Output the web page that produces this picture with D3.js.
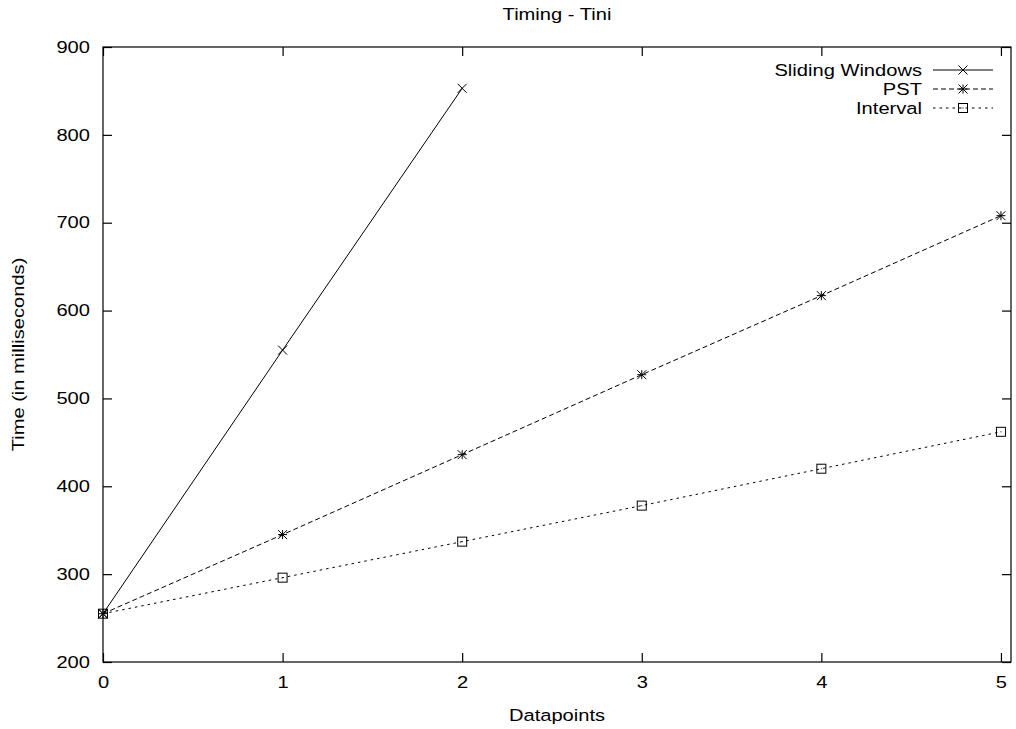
<!DOCTYPE html>
<html>
<head>
<meta charset="utf-8">
<script src="https://cdn.jsdelivr.net/npm/d3@7"></script>
<style>
  html, body { margin: 0; padding: 0; background: #fff; }
  svg { display: block; }
  text { font-family: "Liberation Sans", Arial, Helvetica, sans-serif; fill: #000; }
</style>
</head>
<body>
<svg id="chart" width="1016" height="729"></svg>
<script>
// ---- data ----
const datapoints = [0, 1, 2, 3, 4, 5];
const slidingWindows = [255, 555, 853];
const pst = [255, 345, 436, 527, 617, 708];
const interval = [255, 296, 337, 378, 420, 462];
const seriesNames = ["Sliding Windows", "PST", "Interval"];
const xTicks = [0, 1, 2, 3, 4, 5];
const yTicks = [200, 300, 400, 500, 600, 700, 800, 900];
const titleText = "Timing - Tini";
const xLabel = "Datapoints";
const yLabel = "Time (in milliseconds)";

// ---- layout ----
const mLeft = 103, mRight = 1011, mTop = 47, mBottom = 662;
const SX = 1.22;       // horizontal stretch of the text glyphs
const FS = 16.5;

const svg = d3.select("#chart");
const x = d3.scaleLinear().domain([0, 5.056]).range([mLeft, mRight]);
const y = d3.scaleLinear().domain([200, 900]).range([mBottom, mTop]);

function stretchText(sel, tx, ty) {
  sel.attr("x", 0).attr("transform", `translate(${tx},${ty}) scale(${SX},1)`);
}

// frame
svg.append("rect")
  .attr("x", mLeft).attr("y", mTop)
  .attr("width", mRight - mLeft).attr("height", mBottom - mTop)
  .attr("fill", "none").attr("stroke", "#000").attr("stroke-width", 1.2);

// axes
const gL = svg.append("g").attr("transform", `translate(${mLeft},0)`)
  .call(d3.axisLeft(y).tickValues(yTicks).tickSize(-9).tickPadding(13).tickFormat(d3.format("d")));
const gB = svg.append("g").attr("transform", `translate(0,${mBottom})`)
  .call(d3.axisBottom(x).tickValues(xTicks).tickSize(-9).tickPadding(14).tickFormat(d3.format("d")));
const gR = svg.append("g").attr("transform", `translate(${mRight},0)`)
  .call(d3.axisRight(y).tickValues(yTicks).tickSize(-9).tickFormat(""));
const gT = svg.append("g").attr("transform", `translate(0,${mTop})`)
  .call(d3.axisTop(x).tickValues(xTicks).tickSize(-9).tickFormat(""));

[gL, gB, gR, gT].forEach(g => {
  g.select(".domain").remove();
  g.selectAll(".tick line").attr("stroke", "#000").attr("stroke-width", 1.2);
  g.selectAll("text").attr("font-size", FS).attr("font-family", "Liberation Sans, Arial, sans-serif").attr("fill", "#000");
});
gL.selectAll(".tick text").each(function() {
  d3.select(this).attr("x", 0).attr("transform", `translate(-13,0) scale(${SX},1)`);
});
gB.selectAll(".tick text").each(function() {
  d3.select(this).attr("transform", `scale(${SX},1)`);
});

// title & axis labels
stretchText(svg.append("text").attr("text-anchor", "middle").attr("font-size", FS).text(titleText), (mLeft + mRight) / 2, 20);
stretchText(svg.append("text").attr("text-anchor", "middle").attr("font-size", FS).text(xLabel), (mLeft + mRight) / 2, 721);
svg.append("text").attr("text-anchor", "middle").attr("font-size", FS)
  .attr("transform", `translate(24,${(mTop + mBottom) / 2}) rotate(-90) scale(${SX},1)`)
  .text(yLabel);

// series
const series = [
  { name: seriesNames[0], vals: slidingWindows, dash: null, marker: "x" },
  { name: seriesNames[1], vals: pst, dash: "5,3", marker: "star" },
  { name: seriesNames[2], vals: interval, dash: "2.5,4", marker: "square" }
];

function drawMarker(g, type, cx, cy) {
  const s = 4.5;
  if (type === "x" || type === "star") {
    g.append("path")
      .attr("d", `M${cx - s},${cy - s}L${cx + s},${cy + s}M${cx - s},${cy + s}L${cx + s},${cy - s}`)
      .attr("stroke", "#000").attr("stroke-width", 1).attr("fill", "none");
  }
  if (type === "star") {
    g.append("path")
      .attr("d", `M${cx},${cy - s}L${cx},${cy + s}M${cx - s},${cy}L${cx + s},${cy}`)
      .attr("stroke", "#000").attr("stroke-width", 1).attr("fill", "none");
  }
  if (type === "square") {
    g.append("rect").attr("x", cx - 4.5).attr("y", cy - 4.5).attr("width", 9).attr("height", 9)
      .attr("fill", "none").attr("stroke", "#000").attr("stroke-width", 1);
    g.append("rect").attr("x", cx - 0.5).attr("y", cy - 0.5).attr("width", 1).attr("height", 1)
      .attr("fill", "#000");
  }
}

const line = d3.line().x((d, i) => x(datapoints[i])).y(d => y(d));
series.forEach(s => {
  svg.append("path").datum(s.vals)
    .attr("d", line)
    .attr("fill", "none").attr("stroke", "#000").attr("stroke-width", 1)
    .attr("stroke-dasharray", s.dash);
  const g = svg.append("g");
  s.vals.forEach((v, i) => drawMarker(g, s.marker, x(datapoints[i]), y(v)));
});

// legend
const legendRows = [70, 89, 108];
series.forEach((s, i) => {
  const ry = legendRows[i];
  stretchText(svg.append("text").attr("text-anchor", "end").attr("font-size", FS).attr("dy", "0.35em").text(s.name), 922, ry);
  svg.append("line").attr("x1", 933).attr("x2", 993).attr("y1", ry).attr("y2", ry)
    .attr("stroke", "#000").attr("stroke-width", 1).attr("stroke-dasharray", s.dash);
  drawMarker(svg.append("g"), s.marker, 963, ry);
});
</script>
</body>
</html>
